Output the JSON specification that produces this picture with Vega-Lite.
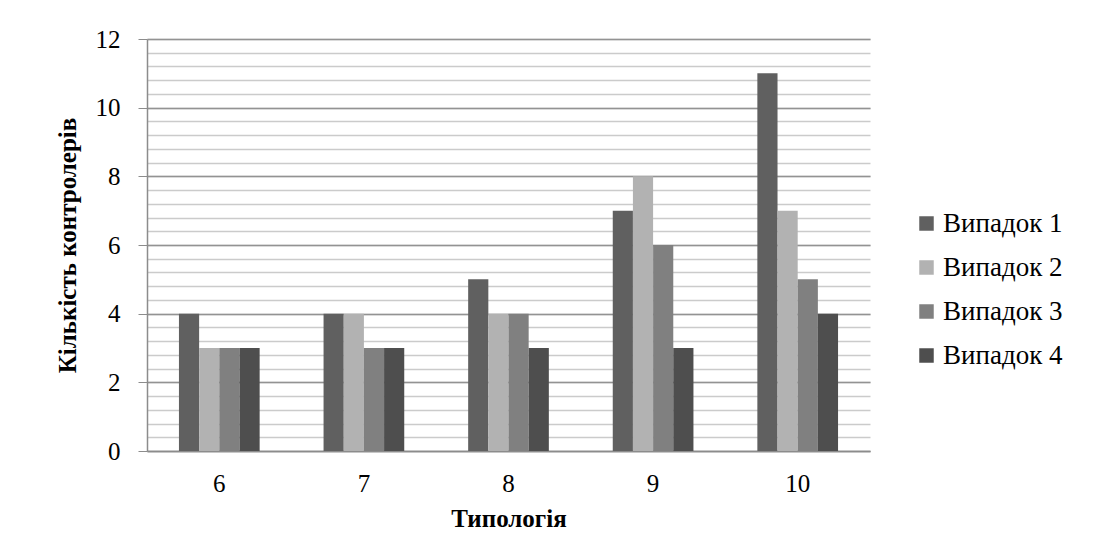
{
  "$schema": "https://vega.github.io/schema/vega-lite/v6.json",
  "width": 723,
  "height": 412,
  "autosize": {"type": "none"},
  "padding": {"left": 147, "top": 39, "right": 230, "bottom": 107},
  "background": "white",
  "config": {
    "view": {"stroke": null},
    "font": "Liberation Serif",
    "axis": {"labelFont": "Liberation Serif", "titleFont": "Liberation Serif"},
    "legend": {"labelFont": "Liberation Serif", "titleFont": "Liberation Serif"}
  },
  "data": {
    "values": [
      {"t": "6", "c": "Випадок 1", "v": 4},
      {"t": "6", "c": "Випадок 2", "v": 3},
      {"t": "6", "c": "Випадок 3", "v": 3},
      {"t": "6", "c": "Випадок 4", "v": 3},
      {"t": "7", "c": "Випадок 1", "v": 4},
      {"t": "7", "c": "Випадок 2", "v": 4},
      {"t": "7", "c": "Випадок 3", "v": 3},
      {"t": "7", "c": "Випадок 4", "v": 3},
      {"t": "8", "c": "Випадок 1", "v": 5},
      {"t": "8", "c": "Випадок 2", "v": 4},
      {"t": "8", "c": "Випадок 3", "v": 4},
      {"t": "8", "c": "Випадок 4", "v": 3},
      {"t": "9", "c": "Випадок 1", "v": 7},
      {"t": "9", "c": "Випадок 2", "v": 8},
      {"t": "9", "c": "Випадок 3", "v": 6},
      {"t": "9", "c": "Випадок 4", "v": 3},
      {"t": "10", "c": "Випадок 1", "v": 11},
      {"t": "10", "c": "Випадок 2", "v": 7},
      {"t": "10", "c": "Випадок 3", "v": 5},
      {"t": "10", "c": "Випадок 4", "v": 4}
    ]
  },
  "encoding": {
    "x": {
      "field": "t",
      "type": "ordinal",
      "sort": ["6", "7", "8", "9", "10"],
      "scale": {"paddingInner": 0.442, "paddingOuter": 0.221},
      "axis": {
        "title": "Типологія",
        "titleFont": "Liberation Serif",
        "titleFontSize": 25,
        "titleFontWeight": "bold",
        "titleColor": "#000",
        "titlePadding": 10,
        "labelAngle": 0,
        "labelFont": "Times New Roman",
        "labelFontSize": 25,
        "labelColor": "#000",
        "labelPadding": 20,
        "ticks": false,
        "domainColor": "#8c8c8c",
        "domainWidth": 1.5,
        "grid": false
      }
    },
    "xOffset": {
      "field": "c",
      "type": "nominal",
      "scale": {"paddingInner": 0, "paddingOuter": 0}
    }
  },
  "layer": [
    {
      "mark": {"type": "bar", "opacity": 0},
      "encoding": {
        "y": {
          "field": "v",
          "type": "quantitative",
          "scale": {"domain": [0, 30], "nice": false},
          "axis": {
            "orient": "left",
            "title": null,
            "tickCount": 30,
            "labels": false,
            "ticks": false,
            "domain": false,
            "grid": true,
            "gridColor": "#cbcbcb",
            "gridWidth": 1.5
          }
        }
      }
    },
    {
      "mark": {"type": "bar", "stroke": null},
      "encoding": {
        "y": {
          "field": "v",
          "type": "quantitative",
          "scale": {"domain": [0, 12], "nice": false},
          "axis": {
            "orient": "left",
            "title": "Кількість контролерів",
            "titleFont": "Liberation Serif",
            "titleFontSize": 25,
            "titleFontWeight": "bold",
            "titleColor": "#000",
            "titlePadding": 15,
            "values": [0, 2, 4, 6, 8, 10, 12],
            "format": "d",
            "labelFont": "Liberation Serif",
            "labelFontWeight": "normal",
            "labelFontSize": 25,
            "labelColor": "#000",
            "labelPadding": 18,
            "tickSize": 9,
            "tickColor": "#8c8c8c",
            "domainColor": "#8c8c8c",
            "domainWidth": 1.5,
            "grid": true,
            "gridColor": "#939393",
            "gridWidth": 1.5
          }
        },
        "color": {
          "field": "c",
          "type": "nominal",
          "scale": {
            "domain": ["Випадок 1", "Випадок 2", "Випадок 3", "Випадок 4"],
            "range": ["#606060", "#b2b2b2", "#808080", "#4e4e4e"]
          },
          "legend": {
            "title": null,
            "orient": "none",
            "legendX": 766,
            "legendY": 171,
            "symbolType": "square",
            "symbolSize": 210,
            "symbolStrokeWidth": 0,
            "labelFont": "Liberation Serif",
            "labelFontWeight": "normal",
            "labelFontSize": 27,
            "labelColor": "#000",
            "labelOffset": 3,
            "rowPadding": 16
          }
        }
      }
    }
  ],
  "resolve": {"scale": {"y": "independent"}, "axis": {"y": "independent"}}
}
